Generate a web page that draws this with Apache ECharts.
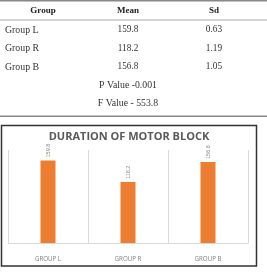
<!DOCTYPE html>
<html><head><meta charset="utf-8">
<script src="https://cdn.jsdelivr.net/npm/echarts@6/dist/echarts.min.js"></script>
<style>html,body{margin:0;padding:0;background:#fff}#c{width:267px;height:275px}</style>
</head><body><div id="c"></div>
<script>
const categories = ['GROUP L', 'GROUP R', 'GROUP B'];
const meanValues = [159.8, 118.2, 156.8];
const tableHeader = ['Group', 'Mean', 'Sd'];
const tableGroups = ['Group L', 'Group R', 'Group B'];
const tableMeans = ['159.8', '118.2', '156.8'];
const tableSd = ['0.63', '1.19', '1.05'];
const tableNotes = ['P Value -0.001', 'F Value - 553.8'];
const chartTitle = 'DURATION OF MOTOR BLOCK';

const serif = '"Liberation Serif","DejaVu Serif",serif';
const g = [];
// table rules
g.push({type:'rect', shape:{x:0,y:0,width:267,height:1.5}, style:{fill:'#888'}});
g.push({type:'rect', shape:{x:0,y:19.5,width:267,height:1}, style:{fill:'#aaa'}});
g.push({type:'rect', shape:{x:0,y:115.5,width:267,height:1.5}, style:{fill:'#888'}});
const colX = [43, 128, 214];
tableHeader.forEach((t,i)=>g.push({type:'text', x:colX[i], y:11, style:{text:t, font:'bold 9px '+serif, fill:'#222', align:'center', verticalAlign:'middle'}}));
const rowY = [30, 48.5, 67];
tableGroups.forEach((t,i)=>{
  g.push({type:'text', x:5, y:rowY[i], style:{text:t, font:'9.8px '+serif, fill:'#333', align:'left', verticalAlign:'middle'}});
  g.push({type:'text', x:colX[1], y:rowY[i], style:{text:tableMeans[i], font:'9.3px '+serif, fill:'#333', align:'center', verticalAlign:'middle'}});
  g.push({type:'text', x:colX[2], y:rowY[i], style:{text:tableSd[i], font:'9.3px '+serif, fill:'#333', align:'center', verticalAlign:'middle'}});
});
[85, 103].forEach((y,i)=>g.push({type:'text', x:colX[1], y:y, style:{text:tableNotes[i], font:'9.8px '+serif, fill:'#333', align:'center', verticalAlign:'middle'}}));
// chart box
g.push({type:'rect', shape:{x:1.5,y:125.5,width:255,height:140.5}, style:{fill:'none', stroke:'#333', lineWidth:1.5}});
g.push({type:'text', x:129, y:137, style:{text:chartTitle, font:'bold 11px "Open Sans",sans-serif', fill:'#595959', align:'center', verticalAlign:'middle'}});

const chart = echarts.init(document.getElementById('c'), null, {renderer:'canvas'});
chart.setOption({
  animation:false,
  grid:{left:8, right:19, top:150, bottom:32},
  xAxis:{type:'category', data:categories,
    axisLine:{lineStyle:{color:'#d9d9d9'}}, axisTick:{show:false},
    splitLine:{show:true, lineStyle:{color:'#d9d9d9', width:1}},
    axisLabel:{color:'#7f7f7f', fontSize:6.2, margin:13, fontFamily:'"Open Sans",sans-serif'}},
  yAxis:{type:'value', min:0, max:180, show:false, splitLine:{show:false}},
  series:[{type:'bar', data:meanValues, barWidth:15, itemStyle:{color:'#ed7d31'},
    label:{show:true, position:'top', rotate:90, distance:3, align:'left', verticalAlign:'middle', fontSize:5.5, color:'#8c8c8c'}}],
  graphic:g
});
</script></body></html>
